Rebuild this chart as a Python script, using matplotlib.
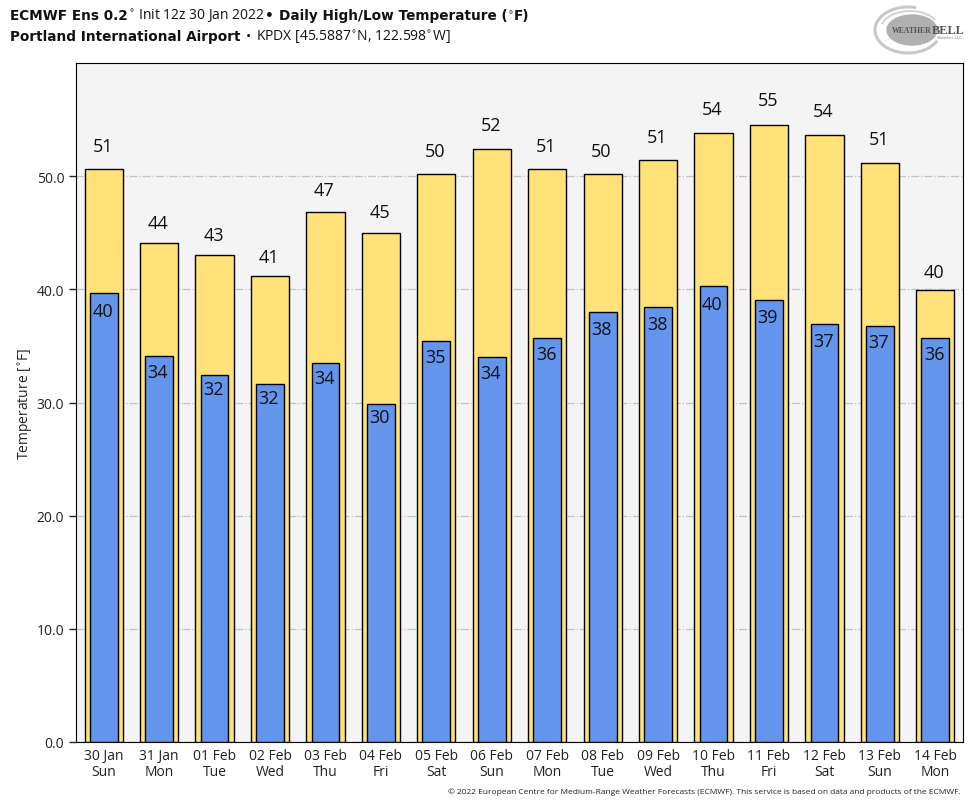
import matplotlib
matplotlib.use('Agg')
import matplotlib.pyplot as plt
from matplotlib.patches import Arc, Ellipse

plt.rcParams['font.family'] = ['Open Sans', 'DejaVu Sans']

# Data
dates = ['30 Jan', '31 Jan', '01 Feb', '02 Feb', '03 Feb', '04 Feb', '05 Feb', '06 Feb',
         '07 Feb', '08 Feb', '09 Feb', '10 Feb', '11 Feb', '12 Feb', '13 Feb', '14 Feb']
days = ['Sun', 'Mon', 'Tue', 'Wed', 'Thu', 'Fri', 'Sat', 'Sun',
        'Mon', 'Tue', 'Wed', 'Thu', 'Fri', 'Sat', 'Sun', 'Mon']
highs = [50.66, 44.1, 43.05, 41.2, 46.86, 45.0, 50.2, 52.4,
         50.6, 50.2, 51.4, 53.8, 54.55, 53.6, 51.2, 39.9]
lows = [39.7, 34.1, 32.45, 31.65, 33.5, 29.9, 35.45, 34.0,
        35.7, 38.0, 38.45, 40.3, 39.1, 36.9, 36.8, 35.7]
yticks = [0, 10, 20, 30, 40, 50]

W, H = 980, 804
fig = plt.figure(figsize=(W / 100, H / 100), dpi=100)
ax = fig.add_axes([76 / W, 1 - 743 / H, (963 - 76) / W, (743 - 64) / H])
ax.set_facecolor('#f4f4f4')

x = list(range(len(dates)))
ax.bar(x, highs, width=0.69, color='#ffe27a', edgecolor='black', linewidth=1, zorder=3)
ax.bar(x, lows, width=0.5, color='#6495ed', edgecolor='black', linewidth=1, zorder=4)

# value labels sit a fixed fraction away from the bar top
for i in x:
    ax.text(i - 0.02, highs[i] * 1.04, f'{highs[i]:.0f}', ha='center', va='center', fontsize=13, color='#111111', zorder=5)
    ax.text(i - 0.02, lows[i] * 0.96, f'{lows[i]:.0f}', ha='center', va='center', fontsize=13, color='#111111', zorder=5)

ax.set_xlim(-0.5, 15.5)
ax.set_ylim(0, 60)
ax.set_xticks(x)
ax.set_xticklabels([f'{d}\n{n}' for d, n in zip(dates, days)], fontsize=10, linespacing=1.1)
ax.tick_params(axis='x', length=0, pad=4, colors='#222222')
ax.set_yticks(yticks)
ax.set_yticklabels([f'{v:.1f}' for v in yticks], fontsize=10)
ax.tick_params(axis='y', length=5, width=1, colors='#222222')
ax.set_ylabel('Temperature [$^{\\circ}$F]', fontsize=10, labelpad=1, color='#222222')
ax.grid(axis='y', color='#c4c4c4', linestyle='-.', linewidth=0.9, zorder=1)
ax.set_axisbelow(True)


def title_line(parts, px, py, gap):
    # write bold and regular pieces one after the other
    renderer = fig.canvas.get_renderer()
    for txt, bold in parts:
        t = fig.text(px / W, 1 - py / H, txt, fontsize=9.8 if bold else 10, va='baseline', color='#111111',
                     family='DejaVu Sans' if bold else 'Open Sans',
                     fontweight='bold' if bold else 'normal')
        px = t.get_window_extent(renderer).x1 + (gap if txt.endswith(' ') else 0)


title_line([('ECMWF Ens 0.2', True), ('$^{\\circ}$ Init 12z 30 Jan 2022 ', False), ('• ', True),
            ('Daily High/Low Temperature (', True), ('$^{\\circ}$', False), ('F)', True)], 10, 20, 0)
title_line([('Portland International Airport ', True), ('• ', False),
            ('KPDX [45.5887$^{\\circ}$N, 122.598$^{\\circ}$W]', False)], 10, 41, 1)

fig.text(961 / W, 1 - 794 / H, '© 2022 European Centre for Medium-Range Weather Forecasts (ECMWF). '
         'This service is based on data and products of the ECMWF.',
         ha='right', va='baseline', fontsize=6.03, color='#222222')

# logo, rough swirl plus name
logo = fig.add_axes([0, 0, 1, 1], facecolor='none')
logo.set_xlim(0, W)
logo.set_ylim(H, 0)
logo.axis('off')
logo.add_patch(Arc((908, 31), 66, 46, theta1=20, theta2=290, edgecolor='#c8c8c8', linewidth=2.2))
logo.add_patch(Arc((910, 30), 58, 36, theta1=190, theta2=340, edgecolor='#d4d4d4', linewidth=1.5))
logo.add_patch(Ellipse((912, 31), 50, 30, color='#b0b0b0'))
logo.text(892, 31, 'WEATHER', fontsize=5.6, family='Liberation Serif', fontweight='bold', color='#555555', va='center')
logo.text(932, 31, 'BELL', fontsize=8.8, family='Liberation Serif', fontweight='bold', color='#555555', va='center')
logo.text(961, 38, 'Weather LLC', fontsize=3, color='#777777', ha='right', va='center')

fig.savefig('out.png', dpi=100)
